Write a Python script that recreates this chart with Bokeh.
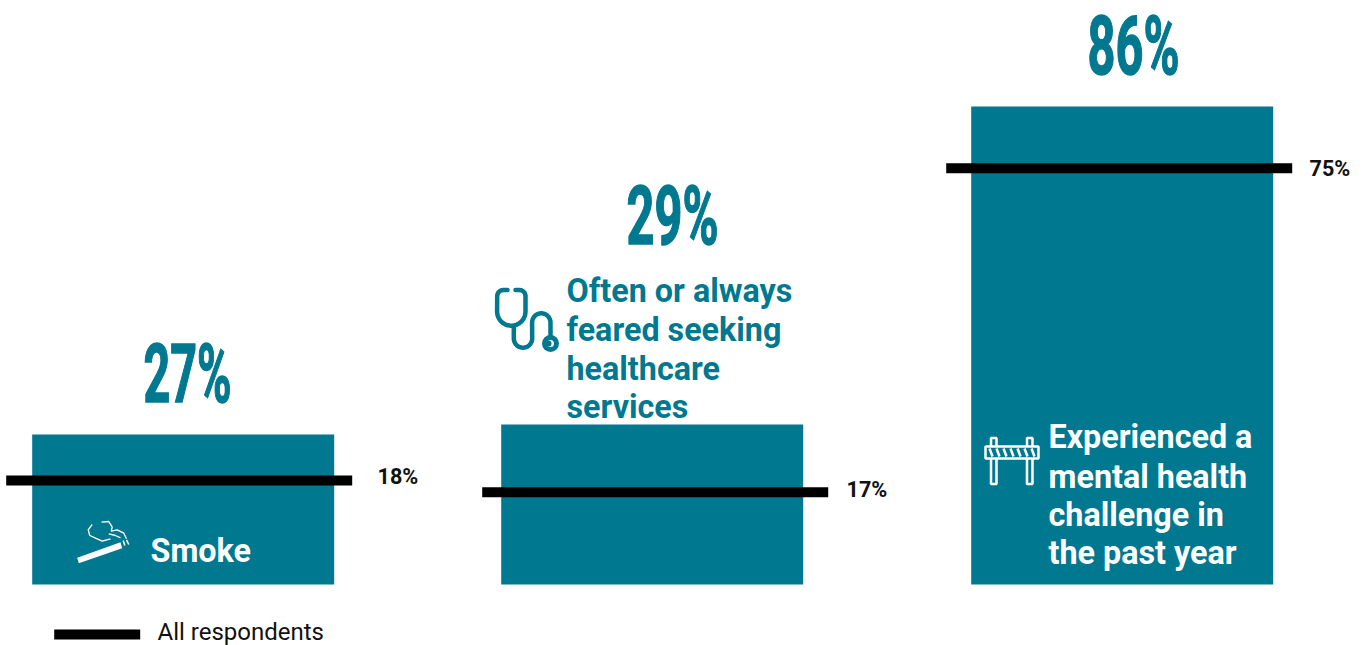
import numpy as np
from bokeh.plotting import figure, curdoc
from bokeh.models import Range1d, CustomJS
from bokeh.core.properties import value
from bokeh.embed import file_html
from bokeh.resources import INLINE

# ---- data ----
categories = ["Smoke", "Often or always feared seeking healthcare services",
              "Experienced a mental health challenge in the past year"]
group_labels = ["27%", "29%", "86%"]
group_values = [27, 28.8, 86]
all_respondents = [18.7, 16.6, 74.9]
all_labels = ["18%", "17%", "75%"]
legend_label = "All respondents"
label_lines = [["Smoke"],
               ["Often or always", "feared seeking", "healthcare", "services"],
               ["Experienced a", "mental health", "challenge in", "the past year"]]

TEAL = "#00788F"
W, H = 1366, 645
Y0, SCALE = 584, 5.558
BASE = 0.35  # Bokeh's shift of an alphabetic baseline, in ems

p = figure(width=W, height=H, output_backend="svg", toolbar_location=None,
           x_range=Range1d(0, W),
           y_range=Range1d((Y0 - H) / SCALE, Y0 / SCALE),
           min_border=0, outline_line_color=None, background_fill_color=None,
           border_fill_color=None)
p.extra_y_ranges = {"px": Range1d(H, 0)}
p.xaxis.visible = False
p.yaxis.visible = False
p.grid.visible = False

bar_x = [182.7, 651.7, 1121.7]
rule_x0 = [5.7, 481.7, 945.7]
rule_x1 = [351.7, 827.7, 1291.7]

p.vbar(x=bar_x, top=group_values, bottom=0, width=302, fill_color=TEAL, line_color=None)
p.segment(x0=rule_x0, x1=rule_x1, y0=all_respondents, y1=all_respondents,
          line_color="black", line_width=10)

def txt(x, y, text, size, color, style="normal", font="Roboto"):
    p.text(x=x, y=[v - BASE * size for v in y], text=text, y_range_name="px",
           text_font=value(font), text_font_style=style, text_font_size=f"{size}px",
           text_color=color, text_baseline="alphabetic")

# big values
txt([143, 626, 1087], [402, 244, 74], group_labels, 81, TEAL, "bold")

# benchmark labels
txt([377, 846, 1309], [484, 497, 176], all_labels, 21.6, "#111111", "bold")

# category labels
cat_x = [150, 566, 1048]
cat_y = [[562], [302, 341, 380, 418], [448, 488, 526, 564]]
cat_col = ["white", TEAL, "white"]
for lines, x, ys, c in zip(label_lines, cat_x, cat_y, cat_col):
    txt([x] * len(lines), ys, lines, 32.3, c, "bold")

# legend
p.segment(x0=[53.7], x1=[139.7], y0=[634], y1=[634], y_range_name="px",
          line_color="black", line_width=10)
txt([157], [640], [legend_label], 24, "#111111")

# ---- icons (decorative, in pixel space) ----
def arc(cx, cy, r, a0, a1, n=16):
    t = np.radians(np.linspace(a0, a1, n))
    return list(cx + r * np.cos(t)), list(cy - r * np.sin(t))

def path(*pieces):
    xs, ys = [], []
    for a, b in pieces:
        xs += list(a); ys += list(b)
    return xs, ys

# stethoscope
xs, ys = path(([507], [289.5]), arc(502.7, 295.5, 6, 90, 180, 8), arc(510.8, 311, 14.2, 180, 360, 20),
              arc(519, 295.5, 6, 0, 90, 8), ([515], [289.5]))
p.line(xs, ys, y_range_name="px", line_color=TEAL, line_width=4.5, line_cap="round")
xs, ys = path(([513.3], [325]), arc(522.5, 338, 9.2, 180, 360, 16), arc(540.8, 322, 9.2, 180, 0, 16),
              ([550], [337]))
p.line(xs, ys, y_range_name="px", line_color=TEAL, line_width=4.5, line_join="round")
p.scatter([550], [343], y_range_name="px", size=17, fill_color=TEAL, line_color=None)
p.scatter([550], [343], y_range_name="px", size=7, fill_color="white", line_color=None)
p.scatter([548], [343], y_range_name="px", size=6, fill_color=TEAL, line_color=None)

# cigarette
p.patch([76.7, 120, 121.7, 78.3], [557.3, 541.7, 547.7, 562.7], y_range_name="px",
        fill_color="white", line_color=None)
p.multi_line([[122.7, 124.3], [126, 128.3]], [[540, 545], [539.3, 544]], y_range_name="px",
             line_color="white", line_width=1.5)
smoke_xs = [[91.7, 87.7, 89.3, 96.7, 101.7, 110],
            [101, 108.3, 111.7, 110.7, 116.7, 123.3, 126],
            [108.3, 115, 120]]
smoke_ys = [[524, 529.3, 535, 538.3, 540.7, 538.3],
            [521.7, 521, 526.7, 530.7, 529.3, 532.7, 538.3],
            [533.3, 535, 537.3]]
p.multi_line(smoke_xs, smoke_ys, y_range_name="px", line_color="white", line_width=1.3)

# barrier
p.quad(left=[990.5, 1026.5], right=[996, 1032], top=[437.5, 437.5], bottom=[483.5, 483.5],
       y_range_name="px", fill_color=None, line_color="white", line_width=2.5)
p.quad(left=[985], right=[1038], top=[446], bottom=[458], y_range_name="px",
       fill_color=TEAL, line_color="white", line_width=2.5)
sx = [989, 996, 1003, 1010, 1017, 1024, 1031]
p.multi_line([[a, a + 3] for a in sx], [[448, 456]] * 7, y_range_name="px",
             line_color="white", line_width=2.5)

# Condense the big numbers to the width of the reference's condensed face.
cb = CustomJS(code="""
const widths = {"27%": 88, "29%": 92, "86%": 92};
function walk(root) {
  for (const t of root.querySelectorAll('text')) {
    const w = widths[t.textContent];
    if (w) {
      t.setAttribute('textLength', w);
      t.setAttribute('lengthAdjust', 'spacingAndGlyphs');
      t.setAttribute('stroke', '#00788F');
      t.setAttribute('stroke-width', '1.5');
    }
  }
  for (const e of root.querySelectorAll('*')) { if (e.shadowRoot) walk(e.shadowRoot); }
}
const go = () => walk(document);
go(); setTimeout(go, 100); setTimeout(go, 500); setTimeout(go, 1000);
""")
doc = curdoc()
doc.add_root(p)
doc.js_on_event("document_ready", cb)

open("out.html", "w").write(file_html(p, INLINE))
